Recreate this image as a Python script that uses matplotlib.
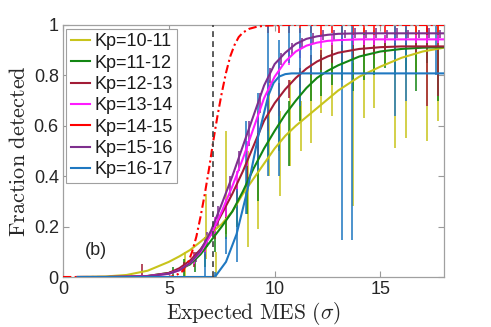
import matplotlib
matplotlib.use("Agg")
import matplotlib.pyplot as plt
from matplotlib.lines import Line2D

plt.rcParams['mathtext.fontset'] = 'cm'
plt.rcParams['font.family'] = ['Liberation Sans', 'DejaVu Sans']

# ---------------- data ----------------
labels = ["Kp=10-11", "Kp=11-12", "Kp=12-13", "Kp=13-14", "Kp=14-15", "Kp=15-16", "Kp=16-17"]
colors = ["#c8c41c", "#138613", "#a21c36", "#ff1aff", "#ff0000", "#7e2f8e", "#1f78c1"]

# fitted curves
x_fit = [0.7, 2, 3, 4, 5, 5.5, 6, 6.5, 7, 7.5, 8, 8.5, 9, 9.5, 10, 10.5, 11, 11.5, 12, 12.5, 13, 14, 15, 16, 17, 18]
fit_10_11 = [0, 0.002, 0.008, 0.025, 0.06, 0.082, 0.107, 0.14, 0.175, 0.21, 0.26, 0.33, 0.39, 0.45, 0.51, 0.56, 0.60, 0.635, 0.67, 0.705, 0.74, 0.795, 0.835, 0.87, 0.895, 0.91]
fit_11_12 = [0, 0, 0.001, 0.004, 0.016, 0.03, 0.05, 0.09, 0.145, 0.2, 0.26, 0.34, 0.43, 0.51, 0.58, 0.645, 0.70, 0.75, 0.79, 0.818, 0.84, 0.875, 0.895, 0.905, 0.91, 0.912]
fit_12_13 = [0, 0, 0.001, 0.004, 0.016, 0.035, 0.065, 0.11, 0.17, 0.25, 0.33, 0.42, 0.52, 0.62, 0.69, 0.745, 0.79, 0.827, 0.855, 0.875, 0.89, 0.905, 0.912, 0.915, 0.915, 0.915]
fit_13_14 = [0, 0, 0.001, 0.003, 0.013, 0.027, 0.055, 0.1, 0.17, 0.26, 0.36, 0.47, 0.59, 0.71, 0.795, 0.855, 0.895, 0.918, 0.93, 0.937, 0.94, 0.943, 0.943, 0.943, 0.943, 0.943]
fit_15_16 = [0, 0, 0.001, 0.003, 0.013, 0.027, 0.055, 0.105, 0.185, 0.29, 0.40, 0.52, 0.64, 0.76, 0.845, 0.89, 0.925, 0.945, 0.955, 0.961, 0.965, 0.967, 0.967, 0.967, 0.967, 0.967]

x_fit_14_15 = [0, 5.0, 5.3, 5.6, 5.9, 6.1, 6.3, 6.5, 6.7, 6.9, 7.1, 7.3, 7.5, 7.7, 7.9, 8.1, 8.3, 8.5, 8.8, 9.2, 9.7, 10.5, 18]
fit_14_15 = [0, 0, 0.005, 0.02, 0.055, 0.1, 0.16, 0.24, 0.33, 0.43, 0.54, 0.64, 0.73, 0.81, 0.875, 0.92, 0.952, 0.97, 0.985, 0.994, 0.998, 1.0, 1.0]

x_fit_16_17 = [0.7, 7.1, 7.2, 7.7, 8.2, 8.7, 9.2, 9.7, 9.95, 10.2, 10.5, 10.8, 18]
fit_16_17 = [0, 0, 0.003, 0.06, 0.17, 0.34, 0.55, 0.72, 0.77, 0.795, 0.805, 0.808, 0.808]

# error bars (bin centre, lower end, upper end)
eb_x_10_11 = [5.75, 6.74, 7.22, 7.72, 8.22, 8.74, 9.21, 9.73, 10.24, 10.74, 11.23, 11.73, 12.2, 12.7, 13.2, 13.7, 14.2, 14.67, 15.2, 15.7, 16.2, 16.7, 17.2, 17.7]
eb_lo_10_11 = [0.0, 0.07, 0.0, 0.17, 0.2, 0.12, 0.19, 0.40, 0.32, 0.44, 0.5, 0.53, 0.65, 0.64, 0.85, 0.28, 0.63, 0.67, 0.84, 0.51, 0.55, 0.8, 0.54, 0.62]
eb_hi_10_11 = [0.1, 0.33, 0.1, 0.58, 0.35, 0.5, 0.66, 0.78, 0.66, 0.78, 0.7, 0.83, 0.91, 0.89, 1.0, 0.85, 0.99, 0.98, 0.93, 0.94, 0.97, 1.0, 0.96, 1.0]

eb_x_11_12 = [5.2, 5.7, 6.23, 6.7, 7.2, 7.7, 8.2, 8.7, 9.2, 9.7, 10.2, 10.7, 11.2, 11.7, 12.2, 12.7, 13.2, 13.7, 14.2, 14.7, 15.2, 15.7, 16.2, 16.7, 17.2, 17.7]
eb_lo_11_12 = [0.0, 0.0, 0.02, 0.04, 0.1, 0.15, 0.2, 0.25, 0.30, 0.47, 0.5, 0.44, 0.62, 0.7, 0.72, 0.76, 0.78, 0.74, 0.78, 0.8, 0.83, 0.8, 0.82, 0.74, 0.85, 0.70]
eb_hi_11_12 = [0.04, 0.07, 0.09, 0.16, 0.22, 0.29, 0.36, 0.47, 0.58, 0.65, 0.7, 0.7, 0.82, 0.84, 0.88, 0.9, 0.94, 0.95, 0.97, 0.95, 0.96, 0.97, 0.98, 0.94, 0.99, 0.91]

eb_x_12_13 = [3.71, 5.7, 6.2, 6.7, 7.2, 7.7, 8.2, 8.7, 9.2, 9.68, 10.2, 10.66, 11.2, 11.7, 12.2, 12.7, 13.2, 13.7, 14.2, 14.7, 15.2, 15.7, 16.2, 16.7, 17.2, 17.7]
eb_lo_12_13 = [0.0, 0.02, 0.04, 0.08, 0.15, 0.22, 0.28, 0.36, 0.47, 0.58, 0.64, 0.71, 0.75, 0.8, 0.82, 0.85, 0.86, 0.87, 0.88, 0.88, 0.89, 0.89, 0.9, 0.89, 0.68, 0.72]
eb_hi_12_13 = [0.05, 0.06, 0.1, 0.15, 0.22, 0.3, 0.37, 0.47, 0.58, 0.71, 0.77, 0.78, 0.83, 0.88, 0.9, 0.93, 0.94, 0.95, 0.95, 0.95, 0.95, 0.95, 0.95, 0.96, 1.0, 0.97]

eb_x_13_14 = [6.2, 6.7, 7.2, 7.7, 8.2, 8.7, 9.2, 9.7, 10.2, 10.7, 11.2, 11.7, 12.2, 12.7, 13.2, 13.7, 14.2, 14.7, 15.2, 15.7, 16.2, 16.7, 17.2, 17.7]
eb_lo_13_14 = [0.05, 0.09, 0.17, 0.24, 0.34, 0.44, 0.57, 0.7, 0.79, 0.84, 0.87, 0.9, 0.91, 0.92, 0.92, 0.92, 0.92, 0.92, 0.93, 0.93, 0.93, 0.93, 0.93, 0.93]
eb_hi_13_14 = [0.09, 0.15, 0.24, 0.31, 0.42, 0.54, 0.65, 0.79, 0.86, 0.9, 0.93, 0.95, 0.96, 0.96, 0.96, 0.97, 0.96, 0.96, 0.96, 0.96, 0.96, 0.96, 0.96, 0.96]

eb_x_14_15 = [9.7, 10.2, 10.7, 11.2, 11.7, 12.2, 12.7, 13.2, 13.7, 14.2, 14.7, 15.2, 15.7, 16.2, 16.7, 17.2, 17.7]
eb_lo_14_15 = [0.97, 0.97, 0.97, 0.97, 0.97, 0.96, 0.97, 0.96, 0.96, 0.97, 0.96, 0.97, 0.96, 0.97, 0.96, 0.96, 0.97]
eb_hi_14_15 = [1.0, 1.0, 1.0, 1.0, 1.0, 1.0, 1.0, 1.0, 1.0, 1.0, 1.0, 1.0, 1.0, 1.0, 1.0, 1.0, 1.0]

eb_x_15_16 = [6.3, 6.8, 7.3, 7.9, 8.3, 8.8, 9.3, 9.8, 10.3, 10.8, 11.3, 11.8, 12.3, 12.8, 13.3, 13.8, 14.3, 14.8, 15.3, 15.8, 16.3, 16.8, 17.3, 17.8]
eb_lo_15_16 = [0.06, 0.12, 0.2, 0.32, 0.42, 0.52, 0.65, 0.77, 0.84, 0.88, 0.91, 0.93, 0.94, 0.94, 0.95, 0.95, 0.95, 0.95, 0.95, 0.95, 0.95, 0.95, 0.95, 0.95]
eb_hi_15_16 = [0.1, 0.18, 0.28, 0.4, 0.5, 0.62, 0.73, 0.83, 0.89, 0.93, 0.95, 0.97, 0.98, 0.98, 0.98, 0.99, 0.98, 0.99, 0.98, 0.99, 0.98, 0.98, 0.99, 0.98]

eb_x_16_17 = [6.7, 7.2, 7.7, 8.2, 8.66, 9.2, 9.69, 10.2, 10.7, 11.2, 11.7, 13.17, 13.65, 15.68, 16.2, 17.6]
eb_lo_16_17 = [0.0, 0.0, 0.09, 0.06, 0.25, 0.42, 0.40, 0.40, 0.85, 0.68, 0.81, 0.147, 0.147, 0.64, 0.70, 0.8]
eb_hi_16_17 = [0.1, 0.02, 0.16, 0.35, 0.62, 0.73, 1.0, 0.94, 1.0, 0.99, 1.0, 1.0, 1.0, 1.0, 1.0, 1.0]

threshold_x = 7.1
x_ticks = [0, 5, 10, 15]
y_ticks = [0, 0.2, 0.4, 0.6, 0.8, 1]
y_tick_labels = ["0", "0.2", "0.4", "0.6", "0.8", "1"]

# ---------------- plotting ----------------
fig = plt.figure(figsize=(4.91, 3.27), dpi=100)
ax = fig.add_axes([63 / 491, 50 / 327, 381 / 491, 252 / 327])

bars = [
    (eb_x_10_11, eb_lo_10_11, eb_hi_10_11),
    (eb_x_11_12, eb_lo_11_12, eb_hi_11_12),
    (eb_x_12_13, eb_lo_12_13, eb_hi_12_13),
    (eb_x_13_14, eb_lo_13_14, eb_hi_13_14),
    (eb_x_14_15, eb_lo_14_15, eb_hi_14_15),
    (eb_x_15_16, eb_lo_15_16, eb_hi_15_16),
    (eb_x_16_17, eb_lo_16_17, eb_hi_16_17),
]
for (bx, lo, hi), c in zip(bars, colors):
    ax.vlines(bx, lo, hi, colors=c, lw=1.4, alpha=0.8, zorder=2)

curves = [
    (x_fit, fit_10_11, '-'),
    (x_fit, fit_11_12, '-'),
    (x_fit, fit_12_13, '-'),
    (x_fit, fit_13_14, '-'),
    (x_fit_14_15, fit_14_15, (0, (4, 1.6, 1, 1.6))),
    (x_fit, fit_15_16, '-'),
    (x_fit_16_17, fit_16_17, '-'),
]
for (cx, cy, ls), c in zip(curves, colors):
    ax.plot(cx, cy, color=c, lw=1.5, ls=ls, zorder=3)

ax.axvline(threshold_x, color='#404040', lw=1.2, ls=(0, (3.5, 2.5)), zorder=4)

ax.set_xlim(0, 18)
ax.set_ylim(0, 1)
ax.set_xticks(x_ticks)
ax.set_yticks(y_ticks)
ax.set_yticklabels(y_tick_labels)
ax.tick_params(direction='in', length=4, width=0.8, color='#9a9a9a',
               labelsize=13, labelcolor='#262626', top=True, right=True, pad=3)
for s in ax.spines.values():
    s.set_color('#a0a0a0')
    s.set_linewidth(0.9)

ax.set_xlabel(r'$\mathrm{Expected\ MES\ }(\sigma)$', fontsize=15.5, color='#262626', labelpad=1)
ax.set_ylabel(r'$\mathrm{Fraction\ detected}$', fontsize=16, color='#262626', labelpad=3)

ax.text(1.05, 0.105, '(b)', fontsize=13, color='#262626', va='center', ha='left')

handles = [Line2D([], [], color=c, lw=1.5) for c in colors]
leg = ax.legend(handles, labels, loc='upper left', bbox_to_anchor=(0.008, 0.985),
                fontsize=13, frameon=True, fancybox=False, framealpha=1,
                edgecolor='#a0a0a0', handlelength=1.1, handletextpad=0.2,
                labelspacing=0.24, borderpad=0.25, borderaxespad=0.0)
leg.get_frame().set_linewidth(0.8)
for t in leg.get_texts():
    t.set_color('#1a1a1a')

fig.savefig('out.png', dpi=100)
